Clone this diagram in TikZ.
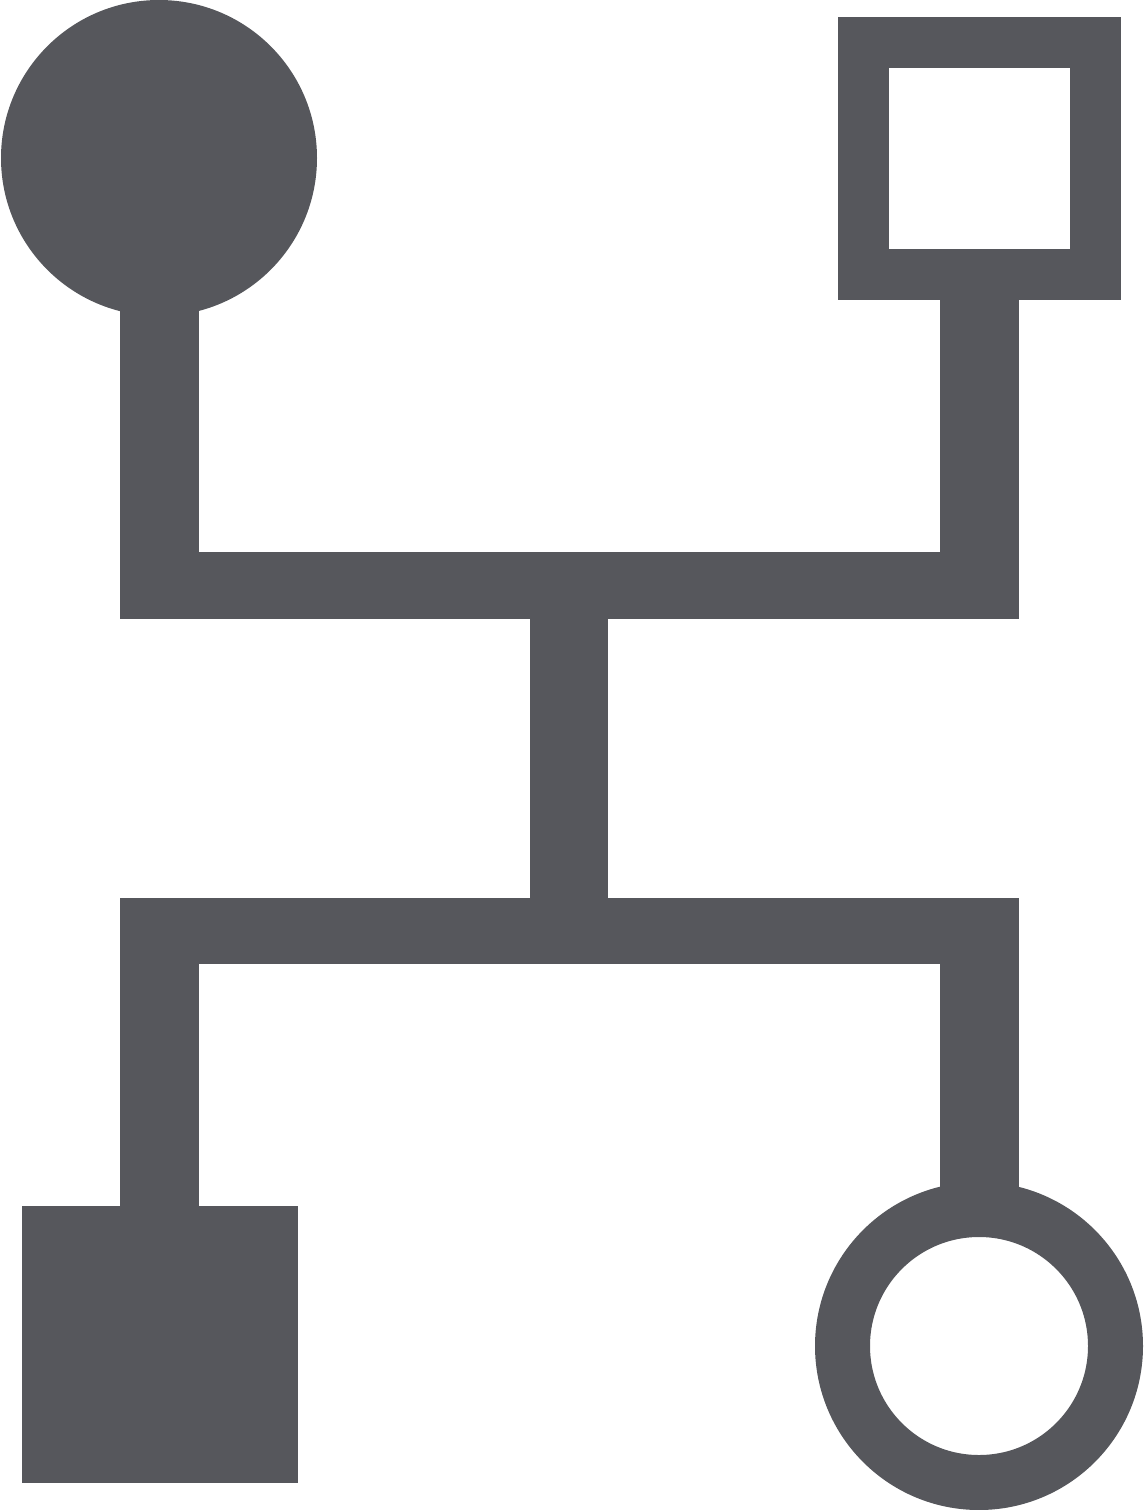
\documentclass[tikz,border=0pt]{standalone}
\begin{document}
\begin{tikzpicture}[x=1pt,y=-1pt,
  every node/.style={inner sep=0pt,outer sep=0pt},
  ink/.style={fill=iconGrey,draw=none},
  filledcircle/.style={circle,ink,minimum size=316pt},
  ringcircle/.style={circle,draw=iconGrey,line width=55pt,minimum size=273pt},
  filledsquare/.style={rectangle,ink,minimum width=276pt,minimum height=277pt},
  hollowsquare/.style={rectangle,draw=iconGrey,line width=51pt,minimum size=232pt}]
\definecolor{iconGrey}{HTML}{56575C}
\useasboundingbox (0,0) rectangle (1144,1510);
% nodes
\node[filledcircle] (tl) at (159,158) {};
\node[hollowsquare] (tr) at (979.5,158.5) {};
\node[filledsquare] (bl) at (160,1344.5) {};
\node[ringcircle] (br) at (979,1346) {};
% connectors
\fill[iconGrey] (120,290) rectangle (199,619);
\fill[iconGrey] (940,290) rectangle (1019,619);
\fill[iconGrey] (120,552) rectangle (1019,619);
\fill[iconGrey] (530,615) rectangle (608,902);
\fill[iconGrey] (120,898) rectangle (1019,964);
\fill[iconGrey] (120,960) rectangle (199,1210);
\fill[iconGrey] (940,960) rectangle (1019,1200);
\end{tikzpicture}
\end{document}
